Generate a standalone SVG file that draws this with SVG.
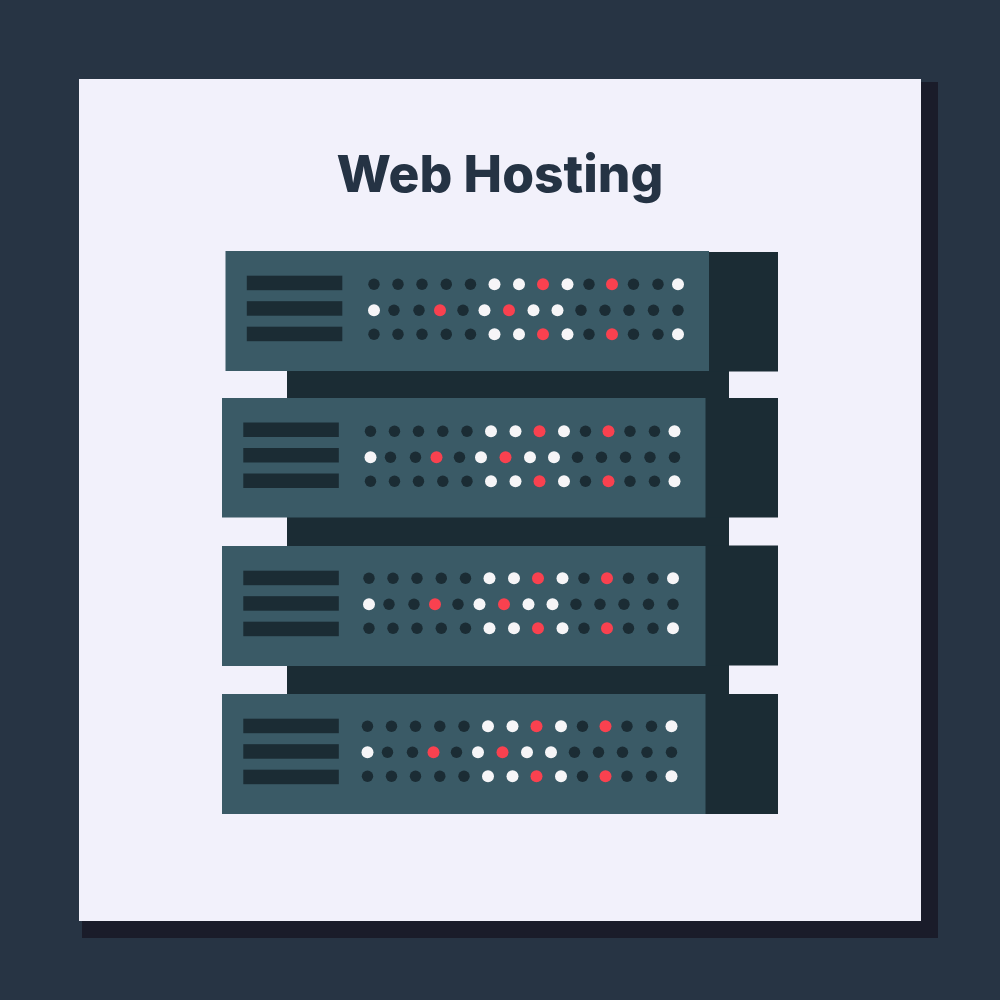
<svg xmlns="http://www.w3.org/2000/svg" xmlns:xlink="http://www.w3.org/1999/xlink" width="1000" height="1000" viewBox="0 0 1000 1000">
<style>
.face{fill:#3a5a66}
.dark{fill:#1b2c34}
.d{fill:#1b2c34}
.w{fill:#f6f5f7}
.r{fill:#f9414f}
.title{font-family:"Inter","Liberation Sans",sans-serif;font-weight:800;font-size:51.5px;fill:#253344}
</style>
<defs>
<g id="bars">
<rect class="dark" x="0" y="0" width="95.5" height="14.5"/>
<rect class="dark" x="0" y="25.5" width="95.5" height="14.5"/>
<rect class="dark" x="0" y="51" width="95.5" height="14.5"/>
</g>
<g id="row1">
<circle class="d" cx="0" cy="0" r="5.700"/><circle class="d" cx="24" cy="0" r="5.700"/><circle class="d" cx="48" cy="0" r="5.700"/><circle class="d" cx="72.300" cy="0" r="5.700"/><circle class="d" cx="96.500" cy="0" r="5.700"/><circle class="w" cx="120.500" cy="0" r="6"/><circle class="w" cx="145" cy="0" r="6"/><circle class="r" cx="169" cy="0" r="6"/><circle class="w" cx="193.500" cy="0" r="6"/><circle class="d" cx="215" cy="0" r="5.700"/><circle class="r" cx="238" cy="0" r="6"/><circle class="d" cx="259.500" cy="0" r="5.700"/><circle class="d" cx="284" cy="0" r="5.700"/><circle class="w" cx="304" cy="0" r="6"/>
</g>
<g id="dots">
<use href="#row1" xlink:href="#row1"/>
<circle class="w" cx="0" cy="26" r="6"/><circle class="d" cx="20" cy="26" r="5.700"/><circle class="d" cx="45" cy="26" r="5.700"/><circle class="r" cx="66" cy="26" r="6"/><circle class="d" cx="89" cy="26" r="5.700"/><circle class="w" cx="110.500" cy="26" r="6"/><circle class="r" cx="135" cy="26" r="6"/><circle class="w" cx="159.500" cy="26" r="6"/><circle class="w" cx="183.500" cy="26" r="6"/><circle class="d" cx="207" cy="26" r="5.700"/><circle class="d" cx="231" cy="26" r="5.700"/><circle class="d" cx="255" cy="26" r="5.700"/><circle class="d" cx="279.500" cy="26" r="5.700"/><circle class="d" cx="304" cy="26" r="5.700"/>
<use href="#row1" xlink:href="#row1" y="50"/>
</g>
</defs>
<rect id="background" width="1000" height="1000" fill="#273444"/>
<rect id="card-shadow" x="82" y="82" width="856" height="856" fill="#1a1c2a"/>
<rect id="card" x="79" y="79" width="842" height="842" fill="#f2f1fb"/>
<text id="title" class="title" x="500" y="192" text-anchor="middle">Web Hosting</text>
<rect id="rack-back" class="dark" x="287" y="371" width="442" height="323"/>
<g id="server-1">
<rect class="dark" x="705" y="252" width="73" height="119.500"/>
<rect class="face" x="225.500" y="251" width="483.500" height="120"/>
<use href="#bars" xlink:href="#bars" x="246.800" y="275.700"/>
<use href="#dots" xlink:href="#dots" x="374" y="284.300"/>
</g>
<g id="server-2">
<rect class="dark" x="705" y="398" width="73" height="119.500"/>
<rect class="face" x="222" y="398" width="483.500" height="119.500"/>
<use href="#bars" xlink:href="#bars" x="243.300" y="422.500"/>
<use href="#dots" xlink:href="#dots" x="370.500" y="431.300"/>
</g>
<g id="server-3">
<rect class="dark" x="705" y="545.500" width="73" height="120"/>
<rect class="face" x="222" y="546" width="483.500" height="120"/>
<use href="#bars" xlink:href="#bars" x="243.300" y="570.700"/>
<use href="#dots" xlink:href="#dots" x="369" y="578.300"/>
</g>
<g id="server-4">
<rect class="dark" x="705" y="694" width="73" height="120"/>
<rect class="face" x="222" y="694" width="483.500" height="120"/>
<use href="#bars" xlink:href="#bars" x="243.300" y="718.700"/>
<use href="#dots" xlink:href="#dots" x="367.500" y="726.300"/>
</g>
</svg>
